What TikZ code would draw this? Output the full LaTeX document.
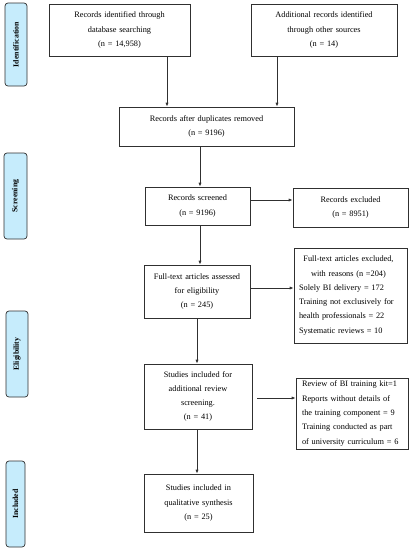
\documentclass[tikz,border=0pt]{standalone}
\usepackage{fontspec}
\setmainfont{Liberation Serif}
\usetikzlibrary{arrows.meta}
\definecolor{lblue}{HTML}{C6ECFC}
\definecolor{lineg}{HTML}{303030}
\tikzset{
  bx/.style={draw=lineg, line width=0.7pt, inner sep=0pt, align=center, fill=white,
    font=\fontsize{8.3}{14.3}\selectfont},
  lbl/.style={draw=lineg, line width=0.7pt, fill=lblue, rounded corners=3pt, rotate=90,
    inner sep=0pt, font=\fontsize{7.8}{8}\selectfont\bfseries},
  arr/.style={draw=lineg, line width=0.8pt, -{Latex[length=4pt,width=3.2pt]}}
}
\begin{document}
\begin{tikzpicture}[x=1pt,y=-1pt]
\useasboundingbox (0,0) rectangle (410,550);
% phase labels
\node[lbl, minimum width=83pt, minimum height=22pt] (l1) at (16,44.5) {Identification};
\node[lbl, minimum width=86pt, minimum height=23pt] (l2) at (15.5,196) {Screening};
\node[lbl, minimum width=86pt, minimum height=22pt] (l3) at (17,354) {Eligibility};
\node[lbl, minimum width=86pt, minimum height=19pt] (l4) at (15.5,504) {Included};
% boxes
\node[bx, minimum width=141pt, minimum height=52pt, text width=131pt] (b1) at (119.5,30)
  {Records identified through\\ database searching\\ (n = 14,958)};
\node[bx, minimum width=146pt, minimum height=52pt, text width=136pt] (b2) at (324,30)
  {Additional records identified\\ through other sources\\ (n = 14)};
\node[bx, minimum width=175pt, minimum height=39pt, text width=165pt] (b3) at (206.5,126.5)
  {Records after duplicates removed\\ (n = 9196)};
\node[bx, minimum width=105pt, minimum height=38pt, text width=97pt] (b4) at (197.5,206)
  {Records screened\\ (n = 9196)};
\node[bx, minimum width=115pt, minimum height=39pt, text width=107pt] (b5) at (350.5,207.5)
  {Records excluded\\ (n = 8951)};
\node[bx, minimum width=106pt, minimum height=53pt, text width=100pt] (b6) at (197,291.5)
  {Full-text articles assessed\\ for eligibility\\ (n = 245)};
\node[bx, minimum width=113pt, minimum height=95pt, text width=103pt, align=left] (b7) at (350.5,295.5)
  {\makebox[99pt][c]{Full-text articles excluded,}\\
   \makebox[99pt][c]{with reasons (n =204)}\\
   Solely BI delivery = 172\\
   Training not exclusively for\\
   health professionals = 22\\
   Systematic reviews = 10};
\node[bx, minimum width=108pt, minimum height=65pt, text width=100pt] (b8) at (198,396.5)
  {Studies included for\\ additional review\\ screening.\\ (n = 41)};
\node[bx, minimum width=112pt, minimum height=71pt, text width=100pt, align=left] (b9) at (352,413.5)
  {Review of BI training kit=1\\
   \makebox[98pt][s]{Reports without details of}\\
   \makebox[98pt][s]{the training component = 9}\\
   \makebox[98pt][s]{Training conducted as part}\\
   \makebox[98pt][s]{of university curriculum = 6}};
\node[bx, minimum width=109pt, minimum height=58pt, text width=101pt] (b10) at (198.5,503)
  {Studies included in\\ qualitative synthesis\\ (n = 25)};
% connector columns / rows
\coordinate (x1) at (167,0);
\coordinate (x2) at (277,0);
\coordinate (x3) at (200,0);
\coordinate (x4) at (197,0);
\coordinate (y1) at (0,200);
\coordinate (y2) at (0,288);
\coordinate (y3) at (0,398);
\coordinate (s3) at (257,398);
% connectors
\draw[arr] (b1.south -| x1) -- (b3.north -| x1);
\draw[arr] (b2.south -| x2) -- (b3.north -| x2);
\draw[arr] (b3.south -| x3) -- (b4.north -| x3);
\draw[arr] (b4.east |- y1) -- (b5.west |- y1);
\draw[arr] (b4.south -| x3) -- (b6.north -| x3);
\draw[arr] (b6.east |- y2) -- (b7.west |- y2);
\draw[arr] (b6.south -| x4) -- (b8.north -| x4);
\draw[arr] (s3) -- (b9.west |- y3);
\draw[arr] (b8.south -| x4) -- (b10.north -| x4);
\end{tikzpicture}
\end{document}
